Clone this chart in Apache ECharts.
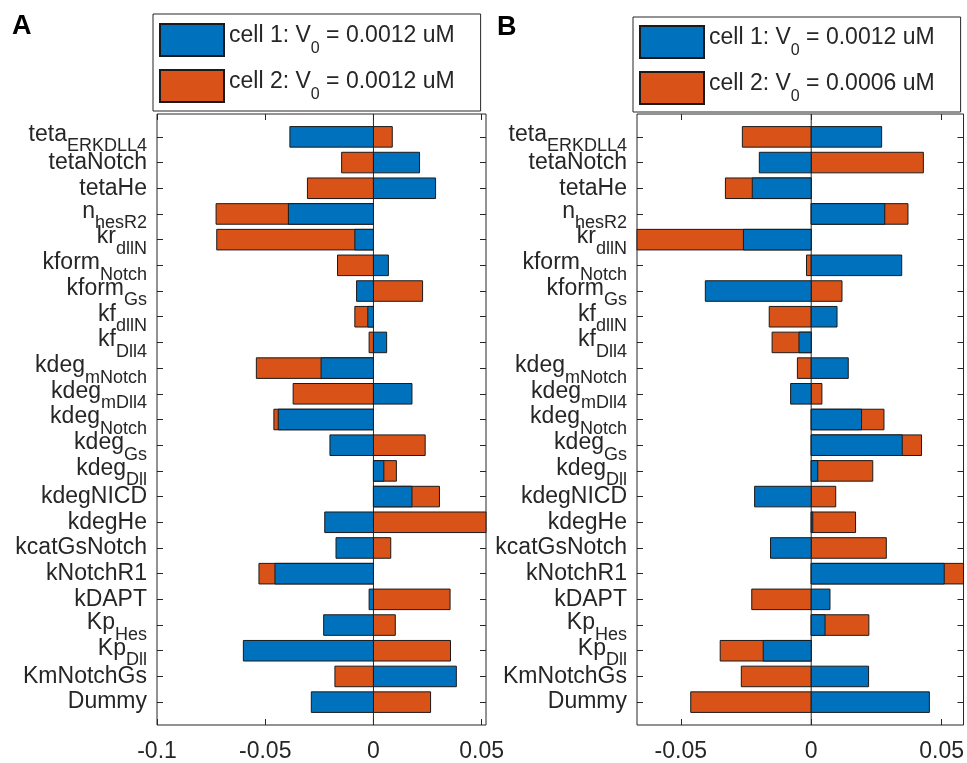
<!DOCTYPE html>
<html>
<head>
<meta charset="utf-8">
<script src="https://cdn.jsdelivr.net/npm/echarts@6/dist/echarts.min.js"></script>
<style>
  html, body { margin: 0; padding: 0; background: #fff; }
  #chart { width: 967px; height: 763px; }
</style>
</head>
<body>
<div id="chart"></div>
<script>
// parameter names, "_" marks the start of a subscript
const paramNames = [
  'teta_ERKDLL4', 'tetaNotch', 'tetaHe', 'n_hesR2', 'kr_dllN', 'kform_Notch', 'kform_Gs',
  'kf_dllN', 'kf_Dll4', 'kdeg_mNotch', 'kdeg_mDll4', 'kdeg_Notch', 'kdeg_Gs', 'kdeg_Dll',
  'kdegNICD', 'kdegHe', 'kcatGsNotch', 'kNotchR1', 'kDAPT', 'Kp_Hes', 'Kp_Dll', 'KmNotchGs', 'Dummy'
];

// panel A
const cellA1 = [-0.0386, 0.0213, 0.0287, -0.0393, -0.0086, 0.0069, -0.0078, -0.0026, 0.0061, -0.0242, 0.0178, -0.0440,
  -0.0201, 0.0048, 0.0178, -0.0225, -0.0173, -0.0455, -0.0020, -0.0230, -0.0601, 0.0383, -0.0287];
const cellA2 = [0.0087, -0.0147, -0.0305, -0.0727, -0.0724, -0.0166, 0.0227, -0.0086, -0.0020, -0.0541, -0.0371, -0.0460,
  0.0239, 0.0106, 0.0305, 0.0600, 0.0080, -0.0529, 0.0354, 0.0101, 0.0356, -0.0178, 0.0264];

// panel B
const cellB1 = [0.0270, -0.0199, -0.0226, 0.0282, -0.0260, 0.0347, -0.0406, 0.0099, -0.0047, 0.0142, -0.0079, 0.0193,
  0.0349, 0.0025, -0.0217, 0.0006, -0.0156, 0.0510, 0.0072, 0.0053, -0.0184, 0.0220, 0.0453];
const cellB2 = [-0.0264, 0.0430, -0.0329, 0.0371, -0.0720, -0.0018, 0.0118, -0.0161, -0.0150, -0.0053, 0.0041, 0.0279,
  0.0423, 0.0236, 0.0094, 0.0170, 0.0288, 0.0620, -0.0228, 0.0221, -0.0349, -0.0268, -0.0462];

const ticksA = [-0.1, -0.05, 0, 0.05];
const ticksB = [-0.05, 0, 0.05];
const v0A = ['0.0012', '0.0012'];
const v0B = ['0.0012', '0.0006'];

const positions = paramNames.map((_, i) => i + 1);
const yMin = 0.11, yMax = 23.89;
// blank end labels soak up the min/max-label overlap check so no real label is dropped
const labelValues = [0.5, ...positions, 23.5];

const FONT = '"Liberation Sans", Arial, Helvetica, sans-serif';
const INK = '#262626';
const BLUE = '#0072BD';
const ORANGE = '#D95319';

const chart = echarts.init(document.getElementById('chart'));

function paramLabel(value) {
  if (value !== Math.round(value)) return '';
  const name = paramNames[value - 1];
  if (!name) return '';
  const parts = name.split('_');
  if (parts.length === 1) return '{p|' + name + '}';
  return '{m|' + parts[0] + '}{s|' + parts[1] + '}';
}

const labelRich = {
  p: { fontSize: 23, fontFamily: FONT, color: INK },
  m: { fontSize: 23, lineHeight: 22, padding: [3, 0, 8, 0], fontFamily: FONT, color: INK },
  s: { fontSize: 18, lineHeight: 14, padding: [19, 0, 0, 0], fontFamily: FONT, color: INK }
};

const legendRich = {
  n: { fontSize: 23, lineHeight: 24, padding: [0, 0, 8, 0], fontFamily: FONT, color: INK },
  s: { fontSize: 16, lineHeight: 14, padding: [18, 0, 0, 0], fontFamily: FONT, color: INK }
};

const legendText = {
  a1: { cell: 1, v: v0A[0] }, a2: { cell: 2, v: v0A[1] },
  b1: { cell: 1, v: v0B[0] }, b2: { cell: 2, v: v0B[1] }
};

function renderBar(params, api) {
  const y = api.value(1);
  const a = api.coord([0, y]);
  const b = api.coord([api.value(0), y]);
  const h = api.size([0, 1])[1] * 0.8;
  const cs = params.coordSys;
  const rect = echarts.graphic.clipRectByRect(
    { x: Math.min(a[0], b[0]), y: a[1] - h / 2, width: Math.abs(b[0] - a[0]), height: h },
    { x: cs.x, y: cs.y, width: cs.width, height: cs.height }
  );
  return rect && { type: 'rect', shape: rect, style: api.style() };
}

function xAxes(grid, min, max, ticks) {
  return [
    {
      gridIndex: grid, type: 'value', position: 'bottom', min: min, max: max,
      axisLine: { show: false, onZero: false }, splitLine: { show: false },
      axisTick: { inside: true, length: 6, customValues: ticks, lineStyle: { color: INK } },
      axisLabel: { customValues: ticks, margin: 15, fontSize: 23, fontFamily: FONT, color: INK,
        showMinLabel: true, showMaxLabel: true, formatter: v => String(v) }
    },
    {
      gridIndex: grid, type: 'value', position: 'top', min: min, max: max,
      axisLine: { show: false, onZero: false }, splitLine: { show: false },
      axisTick: { inside: true, length: 6, customValues: ticks, lineStyle: { color: INK } },
      axisLabel: { show: false }
    }
  ];
}

function yAxes(grid) {
  return [
    {
      gridIndex: grid, type: 'value', position: 'left', inverse: true, min: yMin, max: yMax,
      axisLine: { show: false, onZero: false }, splitLine: { show: false },
      axisTick: { inside: true, length: 6, customValues: positions, lineStyle: { color: INK } },
      axisLabel: { customValues: labelValues, margin: 10, showMinLabel: false, showMaxLabel: false,
        formatter: paramLabel, rich: labelRich }
    },
    {
      gridIndex: grid, type: 'value', position: 'right', inverse: true, min: yMin, max: yMax,
      axisLine: { show: false, onZero: false }, splitLine: { show: false },
      axisTick: { inside: true, length: 6, customValues: positions, lineStyle: { color: INK } },
      axisLabel: { show: false }
    }
  ];
}

function barSeries(name, values, color, xIdx, yIdx) {
  return {
    name: name, type: 'custom', xAxisIndex: xIdx, yAxisIndex: yIdx,
    renderItem: renderBar,
    itemStyle: { color: color, borderColor: '#1a1a1a', borderWidth: 1 },
    encode: { x: 0, y: 1 },
    data: values.map((v, i) => [v, positions[i]])
  };
}

function zeroLine(xIdx, yIdx) {
  return {
    type: 'line', xAxisIndex: xIdx, yAxisIndex: yIdx, silent: true, z: 1,
    symbol: 'none', lineStyle: { color: INK, width: 1 },
    data: [[0, yMin], [0, yMax]]
  };
}

function legendFor(names, left, top, padding) {
  return {
    data: names, left: left, top: top, orient: 'vertical', icon: 'rect',
    itemWidth: 64, itemHeight: 32, itemGap: 12, padding: padding,
    borderColor: INK, borderWidth: 1, selectedMode: false,
    textStyle: { rich: legendRich },
    formatter: name => {
      const t = legendText[name];
      return '{n|cell ' + t.cell + ': V}{s|0}{n| = ' + t.v + ' uM}';
    }
  };
}

const option = {
  animation: false,
  backgroundColor: '#fff',
  title: [
    { text: 'A', left: 12, top: 13, padding: 0,
      textStyle: { fontSize: 27, fontWeight: 'bold', color: '#000', fontFamily: FONT } },
    { text: 'B', left: 497, top: 14, padding: 0,
      textStyle: { fontSize: 27, fontWeight: 'bold', color: '#000', fontFamily: FONT } }
  ],
  legend: [
    legendFor(['a1', 'a2'], 153, 14, [9, 26, 8, 6]),
    legendFor(['b1', 'b2'], 633, 17, [8, 26, 7, 6])
  ],
  grid: [
    { left: 157, right: 481, top: 114, bottom: 37, show: true, borderColor: INK, borderWidth: 1 },
    { left: 637, right: 1, top: 114, bottom: 37, show: true, borderColor: INK, borderWidth: 1 }
  ],
  xAxis: [
    ...xAxes(0, -0.1, 0.052, ticksA),
    ...xAxes(1, -0.0668, 0.0584, ticksB)
  ],
  yAxis: [
    ...yAxes(0),
    ...yAxes(1)
  ],
  series: [
    zeroLine(0, 0),
    barSeries('a2', cellA2, ORANGE, 0, 0),
    barSeries('a1', cellA1, BLUE, 0, 0),
    zeroLine(2, 2),
    barSeries('b2', cellB2, ORANGE, 2, 2),
    barSeries('b1', cellB1, BLUE, 2, 2)
  ]
};

chart.setOption(option);
</script>
</body>
</html>
